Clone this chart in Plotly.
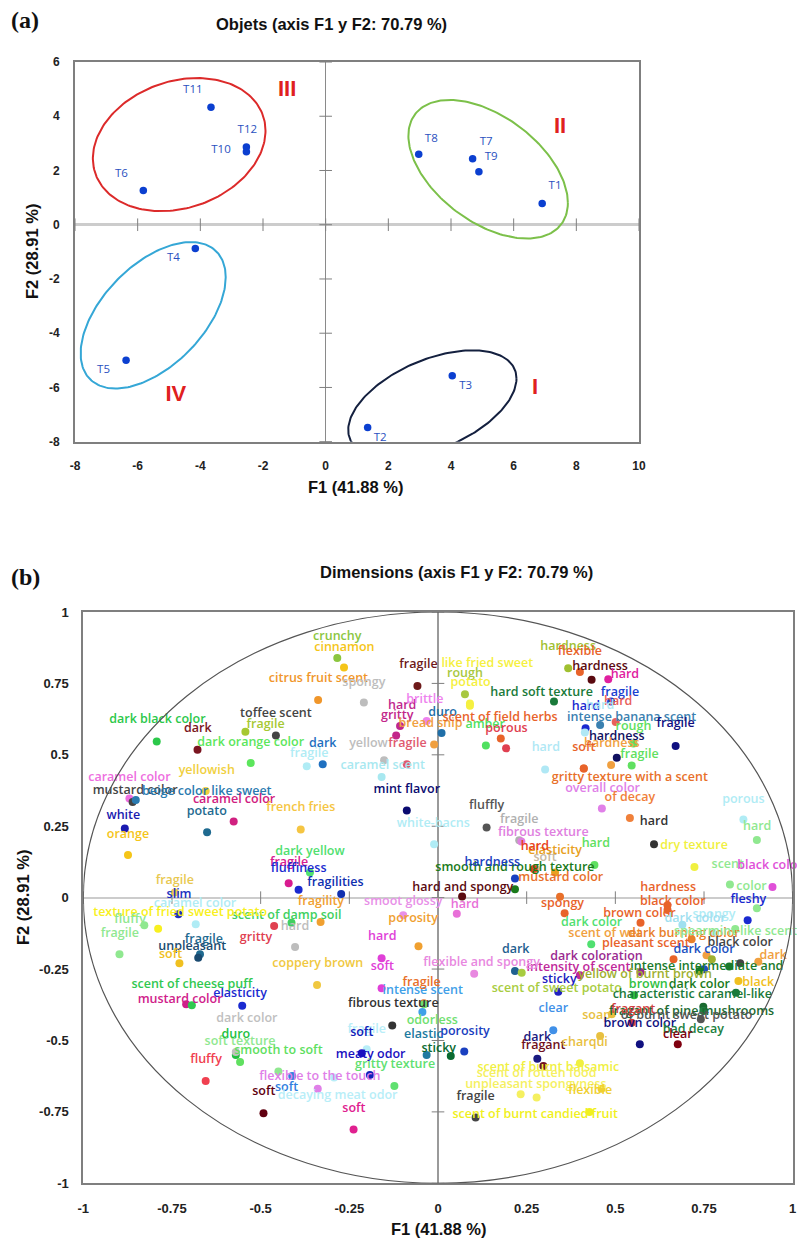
import numpy as np
import plotly.graph_objects as go

W, H = 797, 1238

# ---------- panel (a) data ----------
obj_names = ["T1", "T2", "T3", "T4", "T5", "T6", "T7", "T8", "T9", "T10", "T11", "T12"]
obj_x = [6.91, 1.34, 4.04, -4.16, -6.37, -5.82, 4.69, 2.97, 4.89, -2.53, -3.66, -2.53]
obj_y = [0.78, -7.48, -5.57, -0.88, -5.0, 1.26, 2.43, 2.60, 1.95, 2.69, 4.33, 2.87]
obj_label_x = [7.32, 1.74, 4.47, -4.86, -7.09, -6.52, 5.12, 3.37, 5.28, -3.34, -4.24, -2.50]
obj_label_y = [1.42, -7.87, -5.94, -1.22, -5.35, 1.86, 3.05, 3.17, 2.50, 2.75, 4.95, 3.49]

group_names = ["I", "II", "III", "IV"]
group_x = [6.68, 7.48, -1.23, -4.78]
group_y = [-6.03, 3.59, 4.94, -6.30]
group_cx = [3.405, 5.185, -4.675, -5.505]
group_cy = [-6.62, 2.045, 2.955, -3.34]
group_rx = [2.685, 2.545, 2.755, 2.315]
group_ry = [1.99, 2.555, 2.455, 2.70]
group_tilt = [61.6, 119.0, 78.0, 58.7]
group_colors = ["#14203f", "#7cc04a", "#dc2a2a", "#35a7d6"]

a_xticks = [-8, -6, -4, -2, 0, 2, 4, 6, 8, 10]
a_yticks = [-8, -6, -4, -2, 0, 2, 4, 6]

# ---------- panel (b) data ----------
dim_names = [
    "crunchy", "cinnamon", "citrus fruit scent", "spongy", "fragile", "hard", "gritty", "brittle", "duro", "bread snip",
    "amber", "yellow", "fragile", "caramel scent", "scent of field herbs", "porous", "mint flavor", "white-bacns", "toffee scent", "fragile",
    "dark black color", "dark", "dark orange color", "dark", "fragile", "yellowish", "caramel color", "mustard color", "beige color like sweet", "caramel color",
    "potato", "french fries", "white", "orange", "dark yellow", "fragile", "fluffiness", "fragilities", "hard and spongy", "smooth and rough texture",
    "hardness", "mustard color", "soft", "elasticity", "hard", "fragile", "fibrous texture", "hard", "fluffly", "gritty texture with a scent",
    "overall color", "of decay", "hard", "dry texture", "porous", "hard", "scent", "black color", "color", "hardness",
    "black color", "brown color", "spongy", "fleshy", "dark color", "spongy", "dark color", "scent of wet", "dark burning color", "spearmint-like scent",
    "pleasant scent", "black color", "dark color", "dark", "intense intermediate and", "yellow of burnt brown", "dark coloration", "intensity of scent", "dark", "flexible and spongy",
    "sticky", "scent of sweet potato", "brown", "dark color", "black", "characteristic caramel-like", "fragant of pine mushrooms", "soap", "of burnt sweet potato", "brown color",
    "bad decay", "clear", "fragant", "clear", "dark", "fragant", "charqui", "scent of burnt balsamic", "scent of rotten food", "unpleasant spongyness",
    "flexible", "scent of burnt candied fruit", "fragile", "intense scent", "fragile", "odorless", "porosity", "elastic", "sticky", "fibrous texture",
    "fragile", "soft", "meaty odor", "gritty texture", "flexible to the touch", "soft", "soft", "decaying meat odor", "soft", "fluffy",
    "smooth to soft", "soft texture", "duro", "dark color", "elasticity", "mustard color", "scent of cheese puff", "coppery brown", "hard", "soft",
    "smoot glossy", "hard", "porosity", "fragility", "scent of damp soil", "hard", "gritty", "slim", "fragile", "caramel color",
    "texture of fried sweet potato", "fluffy", "fragile", "fragile", "unpleasant", "soft", "hardness", "flexible", "hardness", "hard",
    "like fried sweet", "rough", "potato", "hard soft texture", "fragile", "hard", "hard", "intense banana scent", "fragile", "rough",
    "hardness", "hardness", "soft", "fragile", "hard", "hard",
]
dim_colors = [
    "#8cc63f", "#f5c518", "#f0962a", "#bdbdbd", "#6e1a1a", "#c0278f", "#c2268a", "#ee82ee", "#1f6fa8", "#f0a040",
    "#50e060", "#bdbdbd", "#e05a6e", "#a8e8f0", "#e8632a", "#e04050", "#0a0a70", "#b0ecf5", "#444444", "#a6c832",
    "#2bc84a", "#7a1520", "#5ce65c", "#1f70c0", "#b0ecf5", "#f0d040", "#ee6ee0", "#444444", "#2a7ab0", "#d02080",
    "#1f6a90", "#f5c542", "#1a1ab0", "#f5c518", "#50e070", "#d81b90", "#1a2ad0", "#1030b0", "#5a0a10", "#1a7a1a",
    "#1a40c0", "#e8702a", "#c8b8a0", "#e8a020", "#e84020", "#b0b0b0", "#e080e0", "#60e060", "#555555", "#e8702a",
    "#e080e8", "#f0803a", "#333333", "#f0f040", "#b0ecf5", "#90e890", "#90e890", "#e050d8", "#90e890", "#e8632a",
    "#e8632a", "#e8632a", "#e8632a", "#1a2ad0", "#50e070", "#b0ecf5", "#a0e0f0", "#f0a040", "#e8802a", "#90e890",
    "#e8632a", "#444444", "#2050c0", "#f0a040", "#1a7a2a", "#a0b030", "#9a2a90", "#c0289a", "#1f6090", "#e888e0",
    "#2020c0", "#a8cc40", "#30c040", "#1a7a1a", "#f0c020", "#1a7a3a", "#1a6a30", "#e8c040", "#555555", "#101080",
    "#208040", "#800010", "#d04040", "#4090e8", "#1a1a80", "#701020", "#e8c040", "#f0f040", "#f5f060", "#f5f060",
    "#f0d030", "#f0f020", "#444444", "#40a0e8", "#e8702a", "#70e070", "#1a40c0", "#207aa0", "#0a6a30", "#333333",
    "#b8eef8", "#1020b8", "#1a10c0", "#60e070", "#e080e8", "#3080e0", "#600010", "#b8eef8", "#e0208f", "#f04050",
    "#60e060", "#90e890", "#20c040", "#c0c0c0", "#1a2ad0", "#d0208a", "#30c850", "#f0c840", "#e040d8", "#e040d8",
    "#e890e8", "#e870d8", "#f0a030", "#f0a030", "#40d060", "#bdbdbd", "#e04050", "#2030c0", "#e8c850", "#b0ecf5",
    "#f8f020", "#90e890", "#90e890", "#1f6a90", "#1a4a70", "#f0c020", "#a0c030", "#e8632a", "#5a0a10", "#e020a0",
    "#f5f040", "#a8c840", "#f5f040", "#1a7a3a", "#1a40d0", "#e8605a", "#1a2ad0", "#3a80b0", "#101080", "#60e060",
    "#101060", "#f0a040", "#e8632a", "#60e060", "#b0e8f5", "#b0e8f5",
]
dim_x = [
    -.284, -.265, -.338, -.209, -.058, -.107, -.118, -.032, .010, -.011,
    .135, -.152, -.088, -.159, .177, .192, -.088, -.011, -.457, -.543,
    -.793, -.678, -.528, -.325, -.370, -.655, -.870, -.861, -.852, -.576,
    -.651, -.387, -.883, -.874, -.361, -.421, -.393, -.273, .068, .217,
    .217, .344, .276, .330, .270, .229, .235, .441, .137, .411,
    .462, .541, .609, .723, .861, .899, .823, .943, .899, .647,
    .647, .571, .357, .873, .432, .776, .689, .757, .715, .838,
    .664, .852, .750, .903, .821, .772, .571, .400, .217, .102,
    .339, .236, .553, .737, .847, .840, .748, .490, .741, .569,
    .748, .676, .546, .325, .280, .297, .457, .400, .233, .278,
    .461, .427, .106, -.044, -.040, -.039, .074, -.032, .036, -.129,
    -.201, -.192, -.215, -.123, -.339, -.411, -.492, -.293, -.238, -.655,
    -.558, -.450, -.570, -.570, -.552, -.710, -.694, -.341, -.159, -.159,
    -.098, .053, -.055, -.331, -.413, -.403, -.462, -.732, -.742, -.683,
    -.789, -.828, -.898, -.671, -.676, -.729, .367, .400, .433, .480,
    .090, .076, .090, .327, .488, .501, .416, .457, .670, .551,
    .504, .488, .411, .546, .302, .414,
]
dim_y = [
    .839, .806, .692, .683, .741, .601, .568, .618, .576, .536,
    .533, .481, .467, .422, .557, .523, .305, .187, .568, .581,
    .547, .518, .471, .467, .460, .373, .347, .335, .342, .267,
    .229, .239, .242, .149, .088, .050, .028, .013, .004, .029,
    .067, .003, .101, .088, .100, .201, .197, .114, .246, .452,
    .312, .279, .187, .107, .274, .202, .046, .037, -.037, -.027,
    -.043, -.088, -.055, -.079, -.163, -.125, -.095, -.202, -.146, -.110,
    -.216, -.230, -.251, -.224, -.241, -.216, -.260, -.272, -.257, -.266,
    -.329, -.263, -.342, -.257, -.292, -.333, -.382, -.408, -.426, -.513,
    -.397, -.513, -.438, -.464, -.564, -.589, -.484, -.580, -.688, -.700,
    -.669, -.750, -.770, -.400, -.370, -.373, -.539, -.551, -.554, -.448,
    -.531, -.621, -.545, -.659, -.669, -.624, -.755, -.630, -.812, -.642,
    -.575, -.609, -.551, -.540, -.378, -.373, -.377, -.306, -.212, -.317,
    -.062, -.056, -.170, -.085, -.088, -.173, -.099, -.058, .018, -.093,
    -.109, -.097, -.198, -.198, -.210, -.230, .803, .790, .763, .765,
    .680, .712, .672, .687, .687, .615, .593, .604, .531, .540,
    .490, .464, .452, .463, .449, .578,
]
dim_label_x = [
    -.284, -.264, -.337, -.209, -.055, -.101, -.115, -.037, .013, -.021,
    .133, -.196, -.086, -.156, .175, .193, -.088, -.013, -.457, -.486,
    -.791, -.677, -.528, -.325, -.363, -.652, -.870, -.854, -.652, -.575,
    -.652, -.387, -.887, -.874, -.361, -.420, -.393, -.289, .070, .217,
    .153, .346, .302, .330, .273, .229, .297, .445, .137, .541,
    .464, .541, .609, .722, .861, .900, .817, .936, .884, .649,
    .662, .568, .351, .875, .433, .778, .725, .471, .693, .839,
    .586, .852, .750, .945, .758, .584, .447, .396, .219, .123,
    .342, .335, .593, .737, .903, .717, .715, .447, .701, .569,
    .720, .676, .550, .325, .280, .297, .414, .311, .278, .276,
    .429, .274, .106, -.043, -.046, -.016, .076, -.041, .002, -.126,
    -.201, -.215, -.190, -.121, -.333, -.427, -.491, -.283, -.237, -.654,
    -.450, -.558, -.570, -.539, -.558, -.727, -.694, -.339, -.157, -.157,
    -.098, .076, -.070, -.330, -.427, -.403, -.513, -.730, -.742, -.685,
    -.727, -.868, -.897, -.660, -.693, -.754, .367, .400, .457, .527,
    .139, .076, .092, .292, .513, .508, .417, .546, .670, .551,
    .504, .490, .411, .568, .304, .457,
]
dim_label_y = [
    .914, .876, .767, .753, .816, .673, .638, .694, .648, .609,
    .604, .537, .537, .461, .630, .592, .376, .257, .643, .604,
    .624, .592, .543, .539, .505, .443, .418, .373, .370, .343,
    .301, .313, .288, .219, .159, .123, .102, .053, .035, .103,
    .123, .070, .140, .163, .179, .271, .228, .190, .321, .418,
    .382, .349, .266, .183, .344, .247, .113, .110, .039, .035,
    -.015, -.058, -.022, -.008, -.088, -.062, -.076, -.126, -.126, -.120,
    -.163, -.158, -.183, -.204, -.242, -.271, -.208, -.245, -.182, -.228,
    -.288, -.319, -.307, -.307, -.300, -.340, -.399, -.414, -.414, -.443,
    -.463, -.481, -.394, -.389, -.492, -.519, -.508, -.597, -.616, -.656,
    -.678, -.760, -.697, -.327, -.300, -.432, -.470, -.481, -.531, -.373,
    -.463, -.475, -.551, -.586, -.628, -.666, -.679, -.693, -.741, -.568,
    -.536, -.506, -.480, -.425, -.338, -.357, -.307, -.233, -.139, -.244,
    -.015, -.026, -.074, -.015, -.064, -.102, -.142, .009, .058, -.021,
    -.055, -.078, -.126, -.148, -.172, -.202, .877, .860, .809, .780,
    .817, .785, .752, .717, .717, .685, .669, .630, .607, .599,
    .562, .537, .523, .499, .523, .671,
]

b_ticks = [-1, -0.75, -0.5, -0.25, 0, 0.25, 0.5, 0.75, 1]
b_tick_labels = ["-1", "-0.75", "-0.5", "-0.25", "0", "0.25", "0.5", "0.75", "1"]
F1_TITLE = "F1 (41.88 %)"
F2_TITLE = "F2 (28.91 %)"
TITLE_A = "Objets (axis F1 y F2: 70.79 %)"
TITLE_B = "Dimensions (axis F1 y F2: 70.79 %)"

BOX = "#7f7f7f"
BOLD = "Liberation Sans"
fig = go.Figure()

# group ellipses, panel (a)
t = np.linspace(0, 2 * np.pi, 200)
for cx, cy, rx, ry, tilt, col in zip(group_cx, group_cy, group_rx, group_ry, group_tilt, group_colors):
    fig.add_trace(go.Scatter(x=cx + rx * np.cos(t), y=cy + ry * np.cos(t - np.radians(tilt)),
                             mode="lines", line=dict(color=col, width=2),
                             cliponaxis=False, xaxis="x", yaxis="y"))

# tick marks along the central axes
fig.add_trace(go.Scatter(x=a_xticks, y=[0] * len(a_xticks), mode="markers", cliponaxis=False,
                         marker=dict(symbol="line-ns", size=9, line=dict(color=BOX, width=1)), xaxis="x", yaxis="y"))
fig.add_trace(go.Scatter(x=[0] * len(a_yticks), y=a_yticks, mode="markers", cliponaxis=False,
                         marker=dict(symbol="line-ew", size=9, line=dict(color=BOX, width=1)), xaxis="x", yaxis="y"))
fig.add_trace(go.Scatter(x=b_ticks, y=[0] * len(b_ticks), mode="markers", cliponaxis=False,
                         marker=dict(symbol="line-ns", size=9, line=dict(color=BOX, width=1)), xaxis="x2", yaxis="y2"))
fig.add_trace(go.Scatter(x=[0] * len(b_ticks), y=b_ticks, mode="markers", cliponaxis=False,
                         marker=dict(symbol="line-ew", size=9, line=dict(color=BOX, width=1)), xaxis="x2", yaxis="y2"))

# panel (a) points and labels
fig.add_trace(go.Scatter(x=obj_x, y=obj_y, mode="markers", marker=dict(color="#0b3fd0", size=7.5), xaxis="x", yaxis="y"))
fig.add_trace(go.Scatter(x=obj_label_x, y=obj_label_y, mode="text", text=obj_names, cliponaxis=False,
                         textfont=dict(color="#2a50c0", size=11.5, family="Open Sans"), xaxis="x", yaxis="y"))
fig.add_trace(go.Scatter(x=group_x, y=group_y, mode="text", text=group_names, cliponaxis=False,
                         textfont=dict(color="#e02020", size=22, family="Liberation Sans", weight="bold"),
                         xaxis="x", yaxis="y"))

# panel (b) points and labels
fig.add_trace(go.Scatter(x=dim_x, y=dim_y, mode="markers", marker=dict(color=dim_colors, size=8),
                         cliponaxis=False, xaxis="x2", yaxis="y2"))
fig.add_trace(go.Scatter(x=dim_label_x, y=dim_label_y, mode="text", text=dim_names, cliponaxis=False,
                         textfont=dict(color=dim_colors, size=12.5, family="Open Sans", weight=600),
                         xaxis="x2", yaxis="y2"))


def axis(domain, anchor, vals, text, zero_color, zero_width, font_size, tick_gap):
    return dict(domain=domain, anchor=anchor, tickmode="array", tickvals=vals, ticktext=text,
                showgrid=False, zeroline=True, zerolinecolor=zero_color, zerolinewidth=zero_width,
                showline=True, mirror=True, linecolor=BOX, linewidth=2,
                ticks="outside", ticklen=tick_gap, tickcolor="rgba(0,0,0,0)",
                tickfont=dict(family=BOLD, size=font_size, color="#222222", weight="bold"))


def note(text, px, py, size, family=BOLD, angle=0):
    return dict(text=text, xref="paper", yref="paper", x=px / W, y=1 - py / H, showarrow=False,
                xanchor="center", yanchor="middle", textangle=angle,
                font=dict(family=family, size=size, color="#111111", weight="bold"))


fig.update_layout(
    width=W, height=H, margin=dict(l=0, r=0, t=0, b=0, autoexpand=False), autosize=False,
    paper_bgcolor="white", plot_bgcolor="white", showlegend=False, hovermode=False,
    xaxis=axis([75 / W, 639 / W], "y", a_xticks, [str(v) for v in a_xticks], "#8a8a8a", 1, 12, 12) | dict(range=[-8, 10]),
    yaxis=axis([1 - 441.7 / H, 1 - 62 / H], "x", a_yticks, [str(v) for v in a_yticks], "#cccccc", 3, 12, 11) | dict(range=[-8, 6]),
    xaxis2=axis([83.3 / W, 792.7 / W], "y2", b_ticks, b_tick_labels, "#9a9a9a", 2, 13, 12) | dict(range=[-1, 1]),
    yaxis2=axis([1 - 1183.3 / H, 1 - 612 / H], "x2", b_ticks, b_tick_labels, "#cccccc", 2, 13, 10) | dict(range=[-1, 1]),
    shapes=[dict(type="circle", xref="x2", yref="y2", x0=-1, x1=1, y0=-1, y1=1,
                 line=dict(color="#555555", width=1.2))],
    annotations=[
        note("(a)", 25, 20, 24, family="Liberation Serif"),
        note("(b)", 25, 577, 24, family="Liberation Serif"),
        note(TITLE_A, 331.5, 24, 16.5),
        note(TITLE_B, 456, 572, 16.5),
        note(F1_TITLE, 355.5, 487, 16.5),
        note(F1_TITLE, 438, 1229, 16.5),
        note(F2_TITLE, 32, 251, 16.5, angle=-90),
        note(F2_TITLE, 23, 898, 16.5, angle=-90),
    ],
)

fig.write_html("out.html", config=dict(displayModeBar=False),
               post_script="document.body.style.margin='0';document.body.style.overflow='hidden';")
